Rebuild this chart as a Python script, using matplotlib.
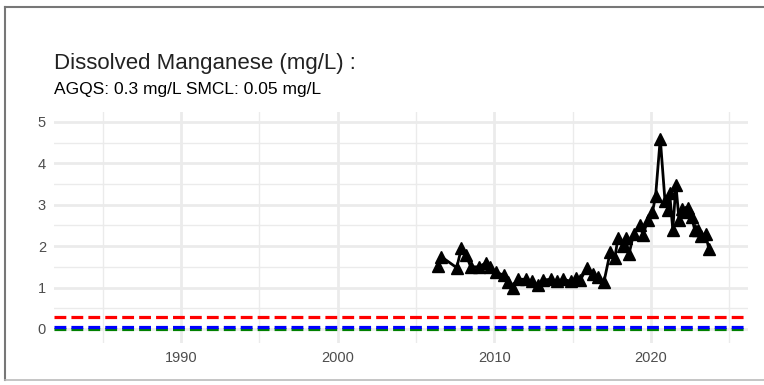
import matplotlib.pyplot as plt
from matplotlib.lines import Line2D

# sample dates (decimal years) and dissolved manganese results (mg/L)
years = [2006.4, 2006.6, 2007.6, 2007.9, 2008.2, 2008.5, 2009.0, 2009.5, 2009.7, 2010.1,
         2010.6, 2010.9, 2011.2, 2011.5, 2012.0, 2012.4, 2012.8, 2013.1, 2013.6, 2014.0,
         2014.4, 2014.9, 2015.2, 2015.5, 2015.9, 2016.3, 2016.6, 2017.0, 2017.4, 2017.7,
         2017.9, 2018.2, 2018.4, 2018.6, 2018.9, 2019.3, 2019.5, 2019.8, 2020.1, 2020.3,
         2020.6, 2020.9, 2021.1, 2021.2, 2021.4, 2021.6, 2021.8, 2022.0, 2022.2, 2022.4,
         2022.6, 2022.8, 2023.0, 2023.2, 2023.5, 2023.7]
mn = [1.52, 1.75, 1.48, 1.95, 1.78, 1.50, 1.50, 1.60, 1.50, 1.37,
      1.30, 1.13, 1.00, 1.20, 1.20, 1.15, 1.05, 1.18, 1.20, 1.15,
      1.20, 1.15, 1.22, 1.18, 1.48, 1.33, 1.25, 1.13, 1.85, 1.72,
      2.20, 2.00, 2.20, 1.80, 2.30, 2.50, 2.27, 2.63, 2.83, 3.20,
      4.60, 3.10, 2.87, 3.28, 2.40, 3.48, 2.63, 2.90, 2.83, 2.93,
      2.70, 2.40, 2.40, 2.25, 2.30, 1.93]

agqs = 0.3
smcl = 0.05
other = 0.0

plt.rcParams['font.family'] = ['Liberation Sans', 'DejaVu Sans']

fig = plt.figure(figsize=(7.64, 3.85), dpi=100)
ax = fig.add_axes([0.071, 0.109, 0.908, 0.6])

ax.plot(years, mn, color='black', linewidth=2.0, marker='^', markersize=8, zorder=5)

for val, col in [(other, 'green'), (smcl, 'blue'), (agqs, 'red')]:
    ln = ax.axhline(val, color=col, linewidth=2.3, zorder=3)
    ln.set_dashes((3.7, 1.6))

ax.set_xlim(1981.9, 2026.2)
ax.set_ylim(-0.34, 5.24)
ax.set_xticks([1990, 2000, 2010, 2020])
ax.set_xticks([1985, 1995, 2005, 2015, 2025], minor=True)
ax.set_yticks([0, 1, 2, 3, 4, 5])
ax.set_yticks([0.5, 1.5, 2.5, 3.5, 4.5], minor=True)
ax.grid(which='major', color='#EBEBEB', linewidth=2.0)
ax.grid(which='minor', color='#EBEBEB', linewidth=1.0)
ax.set_axisbelow(True)
for s in ax.spines.values():
    s.set_visible(False)
ax.tick_params(which='both', length=0, labelsize=10.5, labelcolor='#4D4D4D', pad=6)

fig.text(0.071, 0.822, 'Dissolved Manganese (mg/L) :', fontsize=16, color='#222222')
fig.text(0.071, 0.757, 'AGQS: 0.3 mg/L SMCL: 0.05 mg/L', fontsize=12.5, color='black')

# grey frame around the image (top, left, bottom)
fig.add_artist(Line2D([0.006, 0.006], [0.013, 0.982], color='#777777', linewidth=1.5))
fig.add_artist(Line2D([0.006, 1.0], [0.982, 0.982], color='#777777', linewidth=1.5))
fig.add_artist(Line2D([0.006, 1.0], [0.013, 0.013], color='#BBBBBB', linewidth=1.2))

fig.savefig('out.png', dpi=100)
